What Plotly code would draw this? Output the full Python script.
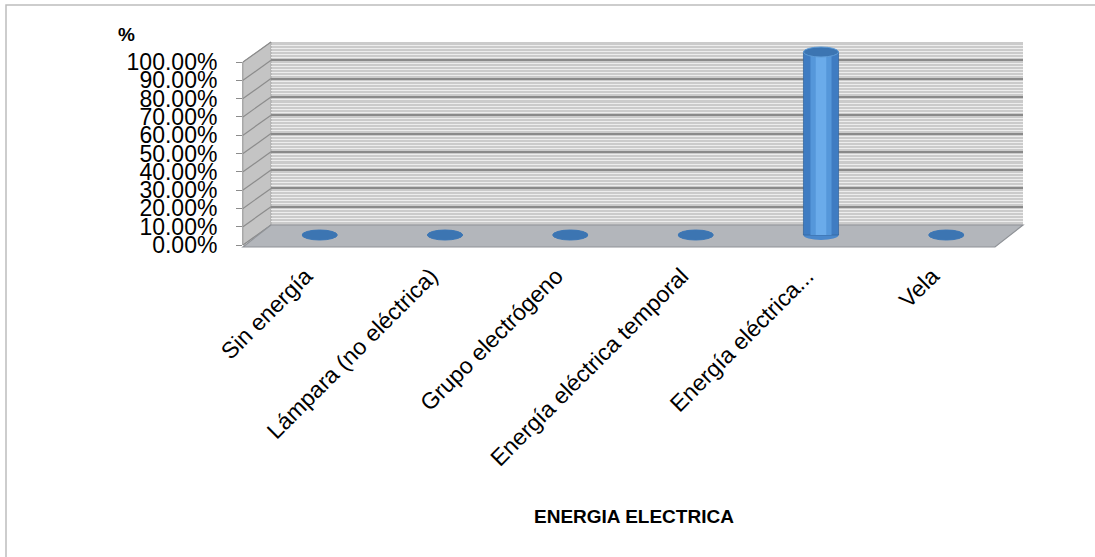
import plotly.graph_objects as go

# ---------------- data ----------------
categories = ["Sin energía", "Lámpara (no eléctrica)", "Grupo electrógeno",
              "Energía eléctrica temporal", "Energía eléctrica...", "Vela"]
values = [0.0, 0.0, 0.0, 0.0, 1.0, 0.0]
y_min, y_max, y_step = 0.0, 1.0, 0.1
y_title = "%"
x_title = "ENERGIA ELECTRICA"

# ---------------- geometry (pixels) ----------------
W, H = 1095, 557
FX0, FX1 = 243, 995      # front plane x
FY0, FY1 = 245, 62       # front plane y (0% / 100%)
DX, DY = 28, -20         # depth offset to back wall
PAD = 0.06


def px(x):
    return x / W


def py(y):
    return 1 - y / H


FONT = "Liberation Sans"
n_ticks = int(round((y_max - y_min) / y_step)) + 1
y_ticks = [y_min + k * y_step for k in range(n_ticks)]

fig = go.Figure()

# front axes (labels) -- invisible carrier trace
fig.add_trace(go.Scatter(x=categories, y=values, xaxis="x", yaxis="y", mode="markers",
                         marker=dict(opacity=0), hoverinfo="skip", showlegend=False))
# back wall axes (grid) -- invisible carrier trace
fig.add_trace(go.Scatter(x=[0.5], y=[y_min], xaxis="x2", yaxis="y2", mode="markers",
                         marker=dict(opacity=0), hoverinfo="skip", showlegend=False))
# cylinders (mid depth)
bar_w = 0.28
fig.add_trace(go.Bar(x=categories, y=values, xaxis="x3", yaxis="y3",
                     width=bar_w, marker=dict(color="#3f7cc2", line=dict(color="#36679f", width=0.8)),
                     hoverinfo="skip", showlegend=False))
fig.add_trace(go.Bar(x=categories, y=values, xaxis="x3", yaxis="y3",
                     width=bar_w * 0.6, marker=dict(color="#5597da", line=dict(width=0)),
                     hoverinfo="skip", showlegend=False))
fig.add_trace(go.Bar(x=categories, y=values, xaxis="x3", yaxis="y3",
                     width=bar_w * 0.3, marker=dict(color="#6aabea", line=dict(width=0)),
                     hoverinfo="skip", showlegend=False))

shapes = []
shapes.append(dict(type="rect", xref="paper", yref="paper", x0=px(6), x1=px(W + 10),
                   y0=py(H + 10), y1=py(5), line=dict(color="#bdbdbd", width=1.5), layer="below"))
shapes.append(dict(type="rect", xref="paper", yref="paper",
                   x0=px(FX0 + DX), x1=px(FX1 + DX), y0=py(FY0 + DY), y1=py(FY1 + DY),
                   fillcolor="#cbcbcb", line=dict(width=0), layer="below"))


def path(pts):
    return "M " + " L ".join(f"{px(a)},{py(b)}" for a, b in pts) + " Z"


shapes.append(dict(type="path", xref="paper", yref="paper",
                   path=path([(FX0, FY1), (FX0 + DX, FY1 + DY), (FX0 + DX, FY0 + DY), (FX0, FY0)]),
                   fillcolor="#c4c4c4", line=dict(color="#a8a8a8", width=1), layer="below"))
for t in y_ticks:
    yy = FY0 + (FY1 - FY0) * (t - y_min) / (y_max - y_min)
    shapes.append(dict(type="line", xref="paper", yref="paper",
                       x0=px(FX0), y0=py(yy), x1=px(FX0 + DX), y1=py(yy + DY),
                       line=dict(color="#8c8c8c", width=1.2), layer="below"))
shapes.append(dict(type="path", xref="paper", yref="paper",
                   path=path([(FX0 + DX, FY0 + DY), (FX1 + DX, FY0 + DY), (FX1, FY0 + 2), (FX0, FY0 + 2)]),
                   fillcolor="#b3b6bb", line=dict(color="#8f9297", width=1.2), layer="below"))

for i, v in enumerate(values):
    shapes.append(dict(type="circle", xref="x3", yref="y3", x0=i - bar_w / 2, x1=i + bar_w / 2,
                       ysizemode="pixel", yanchor=0, y0=-5, y1=5,
                       fillcolor="#4a88cc" if v > 0 else "#3e78b6", line=dict(width=0), layer="between"))
    shapes.append(dict(type="circle", xref="x3", yref="y3", x0=i - bar_w / 2, x1=i + bar_w / 2,
                       ysizemode="pixel", yanchor=v, y0=-5, y1=5,
                       fillcolor="#3c75b2", line=dict(color="#5e9bd6" if v > 0 else "#3e78b6", width=1),
                       layer="above"))

cat_range = [-0.5, len(categories) - 0.5]
span = FY0 - FY1
b0 = FY0 + DY / 2 + PAD * span
b1 = FY1 + DY / 2 - PAD * span

fig.update_layout(
    width=W, height=H, autosize=False,
    margin=dict(l=0, r=0, t=0, b=0, autoexpand=False),
    paper_bgcolor="white", plot_bgcolor="rgba(0,0,0,0)",
    barmode="overlay", showlegend=False,
    font=dict(family=FONT, size=23, color="black"),
    shapes=shapes,
    xaxis=dict(domain=[px(FX0), px(FX1)], anchor="y", type="category", range=cat_range,
               categoryorder="array", categoryarray=categories,
               tickangle=-45, ticks="", showgrid=False, zeroline=False, showline=False,
               tickfont=dict(size=23, family=FONT), ticklabelstandoff=12, automargin=False),
    yaxis=dict(domain=[py(FY0), py(FY1)], anchor="x", range=[y_min, y_max],
               tickmode="linear", tick0=y_min, dtick=y_step,
               tickformat=".2%", ticks="outside", ticklen=6, tickcolor="#8c8c8c",
               showgrid=False, zeroline=False, showline=True, linecolor="#a8a8a8",
               tickfont=dict(size=23, family=FONT), ticklabelstandoff=14, automargin=False),
    xaxis2=dict(domain=[px(FX0 + DX), px(FX1 + DX)], anchor="y2", range=[0, 1],
                showgrid=False, zeroline=False, showline=False, showticklabels=False, ticks=""),
    yaxis2=dict(domain=[py(FY0 + DY), py(FY1 + DY)], anchor="x2", range=[y_min, y_max],
                tickmode="linear", tick0=y_min, dtick=y_step,
                showgrid=True, gridcolor="#8a8a8a", gridwidth=1.5, zeroline=False,
                showline=False, showticklabels=False, ticks="",
                minor=dict(tickmode="linear", dtick=y_step / 6, showgrid=True,
                           gridcolor="#ededed", gridwidth=1.2)),
    xaxis3=dict(domain=[px(FX0 + DX / 2), px(FX1 + DX / 2)], anchor="y3", type="category",
                range=cat_range, categoryorder="array", categoryarray=categories, visible=False),
    yaxis3=dict(domain=[py(b0), py(b1)], anchor="x3",
                range=[y_min - PAD * (y_max - y_min), y_max + PAD * (y_max - y_min)], visible=False),
    annotations=[
        dict(text=f"<b>{y_title}</b>", xref="paper", yref="paper", x=px(126), y=py(34),
             xanchor="center", yanchor="middle",
             showarrow=False, font=dict(size=19, family=FONT)),
        dict(text=f"<b>{x_title}</b>", xref="paper", yref="paper", x=px(634), y=py(516),
             xanchor="center", yanchor="middle",
             showarrow=False, font=dict(size=19, family=FONT)),
    ],
)

fig.write_html("out.html")
